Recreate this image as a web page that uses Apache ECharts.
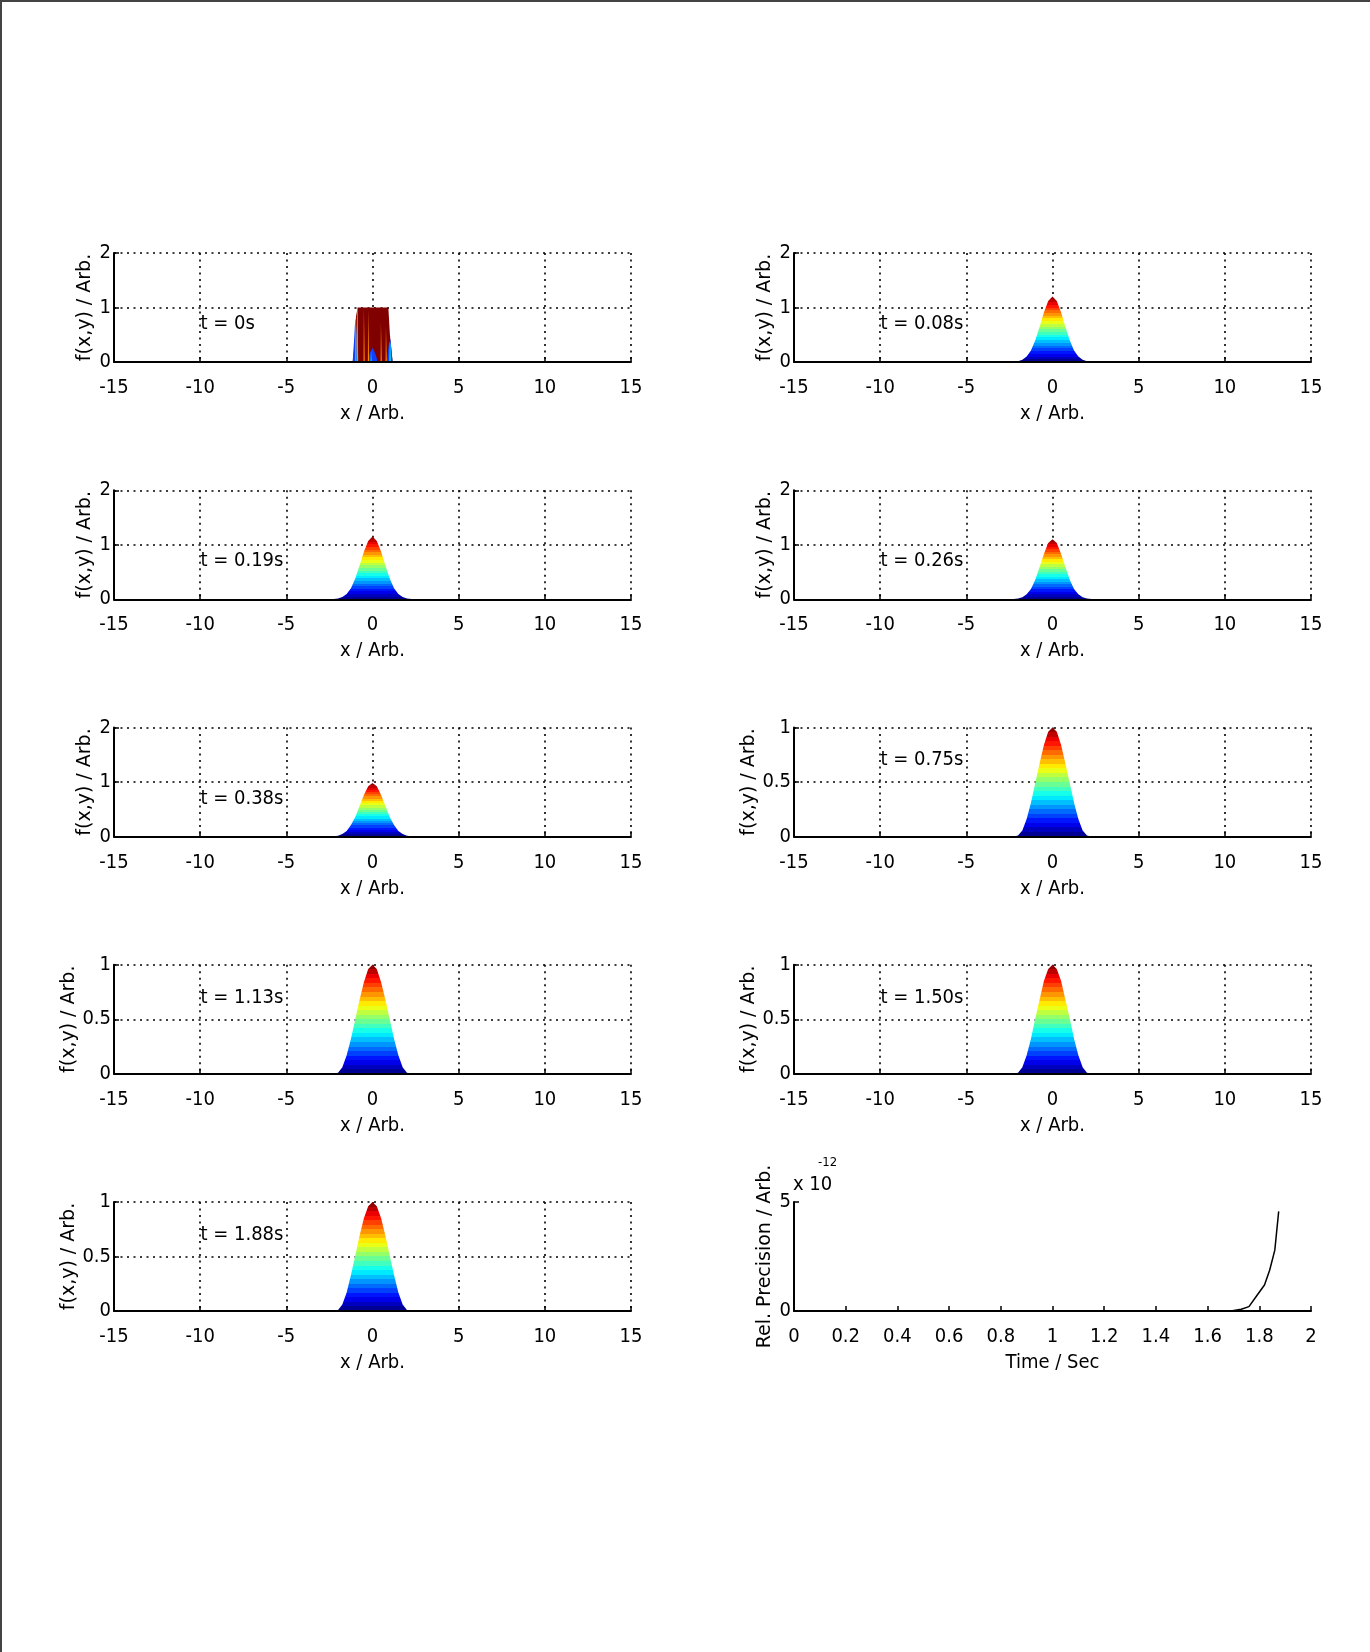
<!DOCTYPE html>
<html><head><meta charset="utf-8">
<script src="https://cdn.jsdelivr.net/npm/echarts@6/dist/echarts.min.js"></script>
<style>
html,body{margin:0;padding:0;background:#fff;}
#chart{position:absolute;left:0;top:0;width:1370px;height:1652px;}
#frame{position:absolute;left:0;top:0;width:1370px;height:1652px;box-sizing:border-box;border-top:2px solid #444;border-left:2px solid #444;pointer-events:none;}
</style></head><body>
<div id="chart"></div><div id="frame"></div>
<script>
// ---------------- data ----------------
const xTickLabels = ['-15', '-10', '-5', '0', '5', '10', '15'];
const yTicks2 = ['0', '1', '2'];
const yTicks1 = ['0', '0.5', '1'];
const timeTickLabels = ['0', '0.2', '0.4', '0.6', '0.8', '1', '1.2', '1.4', '1.6', '1.8', '2'];
const precTicks = ['0', '5'];

const timeLabels = ['t = 0s', 't = 0.08s', 't = 0.19s', 't = 0.26s', 't = 0.38s', 't = 0.75s', 't = 1.13s', 't = 1.50s', 't = 1.88s'];
const yMaxes = [2, 2, 2, 2, 2, 1, 1, 1, 1];

const profileX = [-15, -2.5, -2.25, -2, -1.75, -1.5, -1.25, -1, -0.75, -0.5, -0.25, 0, 0.25, 0.5, 0.75, 1, 1.25, 1.5, 1.75, 2, 2.25, 2.5, 15];
const f008 = [0, 0, 0.005, 0.015, 0.04, 0.10, 0.21, 0.40, 0.64, 0.91, 1.12, 1.20, 1.12, 0.91, 0.64, 0.40, 0.21, 0.10, 0.04, 0.015, 0.005, 0, 0];
const f019 = [0, 0, 0.005, 0.014, 0.04, 0.095, 0.20, 0.38, 0.62, 0.87, 1.07, 1.15, 1.07, 0.87, 0.62, 0.38, 0.20, 0.095, 0.04, 0.014, 0.005, 0, 0];
const f026 = [0, 0, 0.004, 0.013, 0.037, 0.09, 0.19, 0.36, 0.59, 0.83, 1.03, 1.10, 1.03, 0.83, 0.59, 0.36, 0.19, 0.09, 0.037, 0.013, 0.004, 0, 0];
const f038 = [0, 0, 0.004, 0.015, 0.045, 0.10, 0.21, 0.36, 0.56, 0.76, 0.92, 0.98, 0.92, 0.76, 0.56, 0.36, 0.21, 0.10, 0.045, 0.015, 0.004, 0, 0];
const f075 = [0, 0, 0, 0.01, 0.055, 0.16, 0.31, 0.49, 0.67, 0.84, 0.96, 1.0, 0.96, 0.84, 0.67, 0.49, 0.31, 0.16, 0.055, 0.01, 0, 0, 0];
const f113 = [0, 0, 0, 0.01, 0.06, 0.17, 0.32, 0.50, 0.68, 0.84, 0.96, 1.0, 0.96, 0.84, 0.68, 0.50, 0.32, 0.17, 0.06, 0.01, 0, 0, 0];
const f150 = [0, 0, 0, 0.01, 0.06, 0.17, 0.32, 0.51, 0.68, 0.85, 0.96, 1.0, 0.96, 0.85, 0.68, 0.51, 0.32, 0.17, 0.06, 0.01, 0, 0, 0];
const f188 = [0, 0, 0, 0.01, 0.06, 0.17, 0.33, 0.51, 0.69, 0.85, 0.96, 1.0, 0.96, 0.85, 0.69, 0.51, 0.33, 0.17, 0.06, 0.01, 0, 0, 0];

// t = 0s initial block (noisy)
const blockX = [-15, -1.15, -1.02, -0.96, -0.86, 0.92, 1.01, 1.17, 15];
const blockY = [0, 0, 0.4, 0.83, 1.0, 1.0, 0.5, 0, 0];
const blueBlobs = [[-1.15,0],[-1.06,0.45],[-1.0,0.8],[-0.95,0.82],[-0.9,0.5],[-0.86,0.15],[-0.84,0],[-0.3,0],[-0.15,0.18],[0.02,0.26],[0.2,0.12],[0.3,0],[0.84,0],[0.93,0.3],[1.04,0.42],[1.12,0.14],[1.17,0]];
const cyanStreaks = [[-1.02,0],[-0.99,0.75],[-0.96,0.8],[-0.94,0.3],[-0.92,0],[-0.12,0],[-0.08,0.2],[-0.04,0],[0.96,0],[1.0,0.38],[1.05,0.32],[1.08,0]];
const orangeStreaks = [[-0.93,0.35],[-0.9,0.95],[-0.86,1.0],[-0.84,0.3],[-0.83,0],[-0.52,0],[-0.5,1.0],[-0.47,1.0],[-0.45,0],[-0.27,0],[-0.25,0.97],[-0.22,0.97],[-0.2,0],[0.47,0],[0.49,0.72],[0.52,0.72],[0.54,0],[0.76,0],[0.78,0.66],[0.81,0.66],[0.83,0]];

// time-label anchor (data units)
const labelAnchor = [-10, 0.7];

// relative precision vs time (x 1e-12)
const precT = [0, 0.5, 1.0, 1.5, 1.69, 1.73, 1.76, 1.79, 1.82, 1.84, 1.86, 1.875];
const precV = [0, 0, 0, 0, 0, 0.08, 0.2, 0.7, 1.19, 1.87, 2.79, 4.57];

const profiles = [null, f008, f019, f026, f038, f075, f113, f150, f188];

// ---------------- styling / layout ----------------
const NARROW = "'Liberation Sans Narrow','Arial Narrow','DejaVu Sans Condensed',sans-serif";
const WIDE = "'DejaVu Sans','Liberation Sans',sans-serif";
const LEFTS = [114, 794];
const TOP0 = 253, ROWSTEP = 237.25, GW = 517, GH = 109;

function clamp(v){ return Math.max(0, Math.min(1, v)); }
function jet(v){
  const r = clamp(1.5 - Math.abs(4*v - 3)), g = clamp(1.5 - Math.abs(4*v - 2)), b = clamp(1.5 - Math.abs(4*v - 1));
  return 'rgb(' + Math.round(r*255) + ',' + Math.round(g*255) + ',' + Math.round(b*255) + ')';
}
function jetBands(n){
  const stops = [];
  for (let k = 0; k < n; k++) {
    const c = jet(1 - (k + 0.5) / n);
    stops.push({offset: k / n, color: c});
    stops.push({offset: (k + 1) / n, color: c});
  }
  return {type: 'linear', x: 0, y: 0, x2: 0, y2: 1, colorStops: stops};
}

const grids = [], xAxes = [], yAxes = [], series = [];
const axisLineStyle = {color: '#000', width: 2};
const tickStyle = {show: true, inside: true, length: 5, lineStyle: {color: '#000', width: 1.5}};
const dotted = {show: true, lineStyle: {color: '#000', width: 1.6, type: [2, 4.5]}};

for (let i = 0; i < 10; i++) {
  const row = Math.floor(i / 2), col = i % 2;
  grids.push({left: LEFTS[col], top: TOP0 + row * ROWSTEP, width: GW, height: GH, containLabel: false});
  const isPrec = i === 9;
  const xl = isPrec ? timeTickLabels : xTickLabels;
  const xmin = Number(xl[0]), xmax = Number(xl[xl.length - 1]);
  xAxes.push({
    type: 'value', gridIndex: i, min: xmin, max: xmax, interval: isPrec ? 0.2 : 5,
    axisLine: {show: true, onZero: false, lineStyle: axisLineStyle},
    axisTick: tickStyle,
    splitLine: isPrec ? {show: false} : dotted,
    axisLabel: {show: true, margin: 16, color: '#000', fontSize: 20, fontFamily: NARROW,
      formatter: function (v) { const idx = xl.findIndex(s => Math.abs(Number(s) - v) < 1e-9); return idx >= 0 ? xl[idx] : ''; }},
    name: isPrec ? 'Time / Sec' : 'x / Arb.', nameLocation: 'middle', nameGap: 42,
    nameTextStyle: {color: '#000', fontSize: 20, fontFamily: NARROW}
  });
  let yl, ymax;
  if (isPrec) { yl = precTicks; ymax = 5; }
  else { ymax = yMaxes[i]; yl = ymax === 2 ? yTicks2 : yTicks1; }
  yAxes.push({
    type: 'value', gridIndex: i, min: 0, max: ymax, interval: isPrec ? 5 : ymax / 2,
    axisLine: {show: true, onZero: false, lineStyle: axisLineStyle},
    axisTick: tickStyle,
    splitLine: isPrec ? {show: false} : dotted,
    axisLabel: {show: true, margin: 3, color: '#000', fontSize: 20, fontFamily: NARROW,
      formatter: function (v) { const idx = yl.findIndex(s => Math.abs(Number(s) - v) < 1e-9); return idx >= 0 ? yl[idx] : ''; }},
    name: isPrec ? 'Rel. Precision / Arb.' : 'f(x,y) / Arb.', nameLocation: 'middle',
    nameGap: (yl.some(s => s.length > 1)) ? 31 : 19,
    nameTextStyle: {color: '#000', fontSize: 19, fontFamily: WIDE}
  });

  const baseLine = {silent: true, symbol: ['none', 'none'], label: {show: false}, animation: false,
    lineStyle: {color: '#000', width: 2, type: 'solid'}, emphasis: {disabled: true}, data: [{yAxis: 0}]};

  if (isPrec) {
    series.push({type: 'line', xAxisIndex: i, yAxisIndex: i, showSymbol: false, symbol: 'none',
      lineStyle: {color: '#000', width: 1.5}, data: precT.map((t, k) => [t, precV[k]])});
    continue;
  }
  if (i === 0) {
    series.push({type: 'line', xAxisIndex: i, yAxisIndex: i, symbol: 'none', lineStyle: {width: 0, opacity: 0},
      areaStyle: {color: '#800000', opacity: 1}, data: blockX.map((x, k) => [x, blockY[k]]), markLine: baseLine, z: 2});
    series.push({type: 'line', xAxisIndex: i, yAxisIndex: i, symbol: 'none', lineStyle: {width: 0, opacity: 0},
      areaStyle: {color: '#1040ff', opacity: 1}, data: blueBlobs, z: 3});
    series.push({type: 'line', xAxisIndex: i, yAxisIndex: i, symbol: 'none', lineStyle: {width: 0, opacity: 0},
      areaStyle: {color: '#00c8ff', opacity: 1}, data: cyanStreaks, z: 3});
    series.push({type: 'line', xAxisIndex: i, yAxisIndex: i, symbol: 'none', lineStyle: {width: 0, opacity: 0},
      areaStyle: {color: '#ff8c00', opacity: 1}, data: orangeStreaks, z: 3});
  } else {
    const p = profiles[i];
    series.push({type: 'line', xAxisIndex: i, yAxisIndex: i, symbol: 'none', lineStyle: {width: 0, opacity: 0},
      areaStyle: {color: jetBands(24), opacity: 1}, data: profileX.map((x, k) => [x, p[k]]), markLine: baseLine, z: 2});
  }
  // time annotation
  series.push({type: 'scatter', xAxisIndex: i, yAxisIndex: i, symbol: 'circle', symbolSize: 0.5,
    itemStyle: {color: '#000', opacity: 1},
    data: [labelAnchor], z: 5, silent: true,
    label: {show: true, position: 'right', distance: 0, formatter: timeLabels[i], color: '#000', opacity: 1, fontSize: 20, fontFamily: NARROW}});
}

const chart = echarts.init(document.getElementById('chart'), null, {renderer: 'canvas'});
chart.setOption({
  animation: false,
  backgroundColor: '#fff',
  grid: grids, xAxis: xAxes, yAxis: yAxes, series: series,
  graphic: [
    {type: 'text', left: 793, top: 1175, style: {text: 'x 10', fill: '#000', font: '20px ' + NARROW}},
    {type: 'text', left: 818, top: 1156, style: {text: '-12', fill: '#000', font: '13px ' + NARROW}}
  ]
});
</script>
</body></html>
